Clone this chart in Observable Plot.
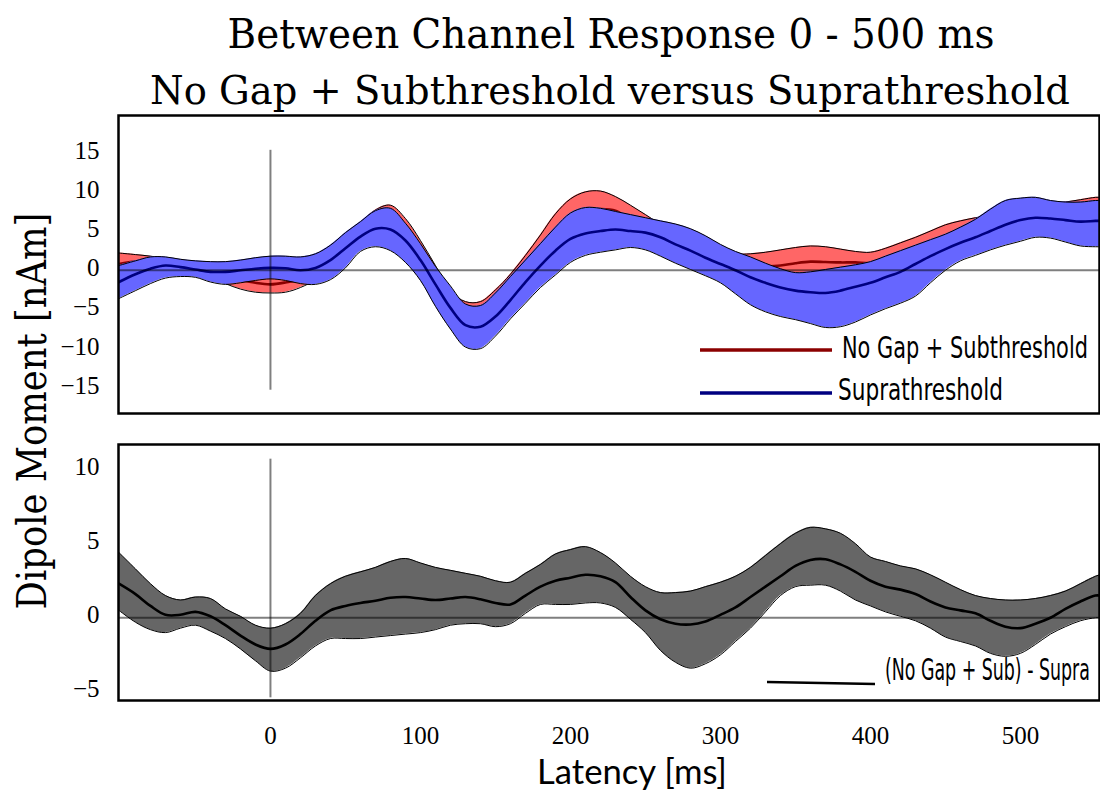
<!DOCTYPE html>
<html>
<head>
<meta charset="utf-8">
<script src="https://cdn.jsdelivr.net/npm/d3@7"></script>
<script src="https://cdn.jsdelivr.net/npm/@observablehq/plot@0.6"></script>
<style>
  html, body { margin: 0; padding: 0; background: #fff; }
  #wrap { position: relative; width: 1100px; height: 799px; overflow: hidden; }
  #top, #bottom { position: absolute; left: 0; }
  #top { top: 105px; }
  #bottom { top: 434px; }
  #overlay { position: absolute; left: 0; top: 0; pointer-events: none; }
</style>
</head>
<body>
<div id="wrap">
  <div id="top"></div>
  <div id="bottom"></div>
  <svg id="overlay" width="1100" height="799"></svg>
</div>
<script>
// ---- data ----
const latency = [-101,-90,-80,-70,-60,-50,-40,-30,-20,-10,0,10,20,30,40,50,60,70,80,90,100,110,120,130,140,150,160,170,180,190,200,210,220,230,240,250,260,270,280,290,300,310,320,330,340,350,360,370,380,390,400,410,420,430,440,450,460,470,480,490,500,510,520,530,540,550,553];

const subMean = [0.8,1.1,1.0,0.8,0.6,0.5,-0.1,-0.7,-1.2,-1.6,
  -1.8,-1.55,-1.1,0.1,1.8,3.6,5.3,6.45,6.55,5.2,
  2.6,-0.6,-3.5,-5.6,-5.95,-4.9,-2.9,0.0,2.7,5.0,
  6.7,7.6,7.8,7.6,6.4,5.3,4.1,2.9,2.05,1.35,
  1.0,0.7,0.5,0.5,0.6,0.9,1.1,1.05,1.0,1.0,
  0.9,1.2,1.7,2.4,2.9,3.4,4.0,4.5,4.8,5.2,
  5.7,6.3,6.6,7.0,7.3,7.8,7.8];
const subHi = [2.2,2.0,1.8,1.5,1.2,1.0,0.5,0.0,-0.4,-0.6,
  -0.7,-0.5,0.0,1.2,3.0,4.7,6.1,7.7,8.3,6.6,
  3.8,0.6,-2.6,-4.0,-4.0,-2.5,-0.5,1.9,4.5,7.2,
  9.1,10.0,10.1,9.4,8.3,7.1,5.9,5.0,4.1,3.3,
  2.7,2.1,2.1,2.3,2.6,2.9,3.1,3.0,2.7,2.4,
  2.3,2.8,3.5,4.2,5.0,5.8,6.3,6.7,7.0,7.4,
  7.8,8.1,8.4,8.7,9.0,9.3,9.3];
const subLo = [-0.6,-0.2,0.0,0.1,0.0,-0.2,-0.8,-1.7,-2.4,-2.8,
  -2.9,-2.8,-2.2,-1.2,0.4,2.1,3.6,4.6,4.6,3.4,
  1.1,-2.0,-5.0,-7.4,-7.9,-7.0,-5.2,-2.7,0.2,2.6,
  4.2,5.0,5.3,5.1,4.4,3.5,2.4,1.2,0.3,-0.4,
  -0.7,-0.8,-0.8,-0.7,-0.5,-0.4,-0.3,-0.4,-0.6,-0.5,
  -0.4,-0.2,0.3,1.0,1.6,2.2,2.9,3.4,3.8,4.1,
  4.4,4.9,5.1,5.5,5.8,6.2,6.2];

const supraMean = [-1.5,-0.5,0.2,0.6,0.4,0.1,-0.2,-0.2,0.0,0.2,
  0.3,0.25,0.0,0.3,1.3,2.8,4.3,5.3,5.2,3.8,
  1.3,-1.8,-4.8,-7.0,-7.2,-5.9,-3.8,-1.5,0.6,2.5,
  4.0,4.7,5.0,5.2,5.0,4.8,4.2,3.3,2.5,1.6,
  0.8,0.0,-0.9,-1.6,-2.2,-2.6,-2.8,-2.9,-2.6,-2.1,
  -1.6,-0.9,-0.2,0.8,1.8,2.7,3.5,4.2,5.0,5.8,
  6.4,6.7,6.6,6.4,6.2,6.3,6.3];
const supraHi = [0.6,1.2,1.7,1.7,1.4,1.2,1.1,1.1,1.3,1.6,
  1.8,1.8,1.7,2.1,3.2,4.8,6.2,7.6,7.9,6.0,
  3.4,0.5,-2.0,-4.3,-4.5,-2.9,-0.8,1.3,3.4,5.5,
  7.3,8.0,7.9,7.5,7.1,6.7,6.3,5.9,5.3,4.4,
  3.3,2.4,1.7,0.9,0.2,-0.3,-0.2,0.1,0.4,0.7,
  1.1,1.8,2.5,3.2,3.9,4.6,5.5,6.5,7.8,8.9,
  9.2,9.3,8.9,8.7,8.7,8.9,8.9];
const supraLo = [-3.6,-2.6,-1.7,-1.0,-0.8,-0.9,-1.5,-1.8,-1.6,-1.3,
  -1.1,-1.3,-1.7,-1.8,-1.2,0.3,2.4,3.0,2.5,1.0,
  -1.3,-4.6,-7.5,-9.8,-10.0,-8.4,-6.2,-4.2,-2.2,-0.6,
  1.0,1.9,2.3,2.6,2.9,2.6,1.8,0.9,0.1,-0.7,
  -1.6,-3.0,-4.4,-5.3,-5.9,-6.3,-6.8,-7.3,-7.2,-6.6,
  -5.7,-4.9,-4.2,-3.3,-1.6,0.0,1.2,1.9,2.6,3.2,
  3.7,4.2,4.1,3.6,3.1,3.0,3.0];

const diffMean = [2.3,1.6,0.8,0.2,0.2,0.4,0.1,-0.5,-1.2,-1.8,
  -2.1,-1.8,-1.1,-0.2,0.5,0.8,1.0,1.15,1.35,1.4,
  1.3,1.2,1.3,1.4,1.25,1.0,0.9,1.5,2.1,2.5,
  2.7,2.9,2.8,2.4,1.4,0.5,-0.1,-0.4,-0.45,-0.25,
  0.2,0.7,1.4,2.1,2.8,3.5,3.9,3.95,3.6,3.1,
  2.5,2.1,1.9,1.6,1.1,0.7,0.5,0.3,-0.2,-0.6,
  -0.7,-0.4,0.0,0.6,1.1,1.5,1.5];
const diffHi = [4.4,3.3,2.3,1.5,1.2,1.4,1.3,0.6,0.1,-0.5,
  -0.7,-0.4,0.3,1.5,2.3,2.8,3.1,3.4,3.8,4.0,
  3.7,3.4,3.2,3.0,2.8,2.5,2.4,3.0,3.6,4.3,
  4.6,4.8,4.4,3.7,2.8,2.1,1.7,1.7,1.8,2.1,
  2.4,2.8,3.4,4.2,5.0,5.7,6.1,6.0,5.7,5.0,
  4.1,3.8,3.5,3.3,2.9,2.4,1.9,1.5,1.3,1.2,
  1.2,1.3,1.5,1.8,2.3,2.8,2.9];
const diffLo = [0.5,-0.3,-0.8,-1.0,-0.7,-0.5,-0.9,-1.4,-2.1,-2.9,
  -3.6,-3.4,-2.7,-1.9,-1.4,-1.4,-1.4,-1.3,-1.2,-1.1,
  -1.0,-0.8,-0.5,-0.4,-0.4,-0.6,-0.4,0.3,0.9,0.9,
  0.9,1.0,1.0,0.7,-0.1,-1.0,-2.2,-3.0,-3.4,-3.1,
  -2.5,-1.6,-0.7,0.4,1.5,2.1,2.2,2.2,1.8,1.2,
  0.8,0.4,0.1,-0.2,-0.7,-1.3,-1.6,-1.9,-2.4,-2.6,
  -2.4,-1.8,-1.1,-0.6,-0.2,0.0,0.0];

const xTicks = [0, 100, 200, 300, 400, 500];
const yTicksTop = [-15, -10, -5, 0, 5, 10, 15];
const yTicksBottom = [-5, 0, 5, 10];
const onsetTop = [{t: 0, lo: -15.3, hi: 15.3}];
const onsetBottom = [{t: 0, lo: -5.4, hi: 10.7}];

const titleLines = ["Between Channel Response 0 - 500 ms", "No Gap + Subthreshold versus Suprathreshold"];
const legendTop = ["No Gap + Subthreshold", "Suprathreshold"];
const legendBottom = "(No Gap + Sub) - Supra";

// ---- build tables ----
const table = (lo, mid, hi) => latency.map((t, i) => ({t, lo: lo[i], mid: mid[i], hi: hi[i]}));
const sub = table(subLo, subMean, subHi);
const supra = table(supraLo, supraMean, supraHi);
const diff = table(diffLo, diffMean, diffHi);

const C = "catmull-rom";
const xDomain = [-101.3, 552.7];

function bandMarks(data, fill, lineColor) {
  return [
    Plot.areaY(data, {x: "t", y1: "lo", y2: "hi", fill, curve: C, clip: true}),
    Plot.line(data, {x: "t", y: "hi", stroke: "black", strokeWidth: 1, curve: C, clip: true}),
    Plot.line(data, {x: "t", y: "lo", stroke: "black", strokeWidth: 1, curve: C, clip: true}),
    Plot.line(data, {x: "t", y: "mid", stroke: lineColor, strokeWidth: 2.6, curve: C, clip: true})
  ];
}

const common = {
  width: 1100,
  marginLeft: 118,
  marginRight: 1,
  style: {fontFamily: "'Liberation Serif', serif", fontSize: "25px", color: "black", background: "transparent"}
};

const topPlot = Plot.plot({
  ...common,
  height: 318,
  marginTop: 10,
  marginBottom: 10,
  x: {domain: xDomain, axis: null},
  y: {domain: [-18.27, 19.74]},
  marks: [
    ...bandMarks(sub, "#ff6666", "#8b0000"),
    ...bandMarks(supra, "#6666ff", "#000080"),
    Plot.ruleY([0], {stroke: "black", strokeOpacity: 0.5, strokeWidth: 2}),
    Plot.ruleX(onsetTop, {x: "t", y1: "lo", y2: "hi", stroke: "black", strokeOpacity: 0.5, strokeWidth: 2}),
    Plot.axisY({ticks: yTicksTop, tickSize: 0, tickPadding: 19, label: null, fontSize: 25, dy: -2}),
    Plot.frame({stroke: "black", strokeWidth: 2.5})
  ]
});
document.getElementById("top").appendChild(topPlot);

const bottomPlot = Plot.plot({
  ...common,
  height: 326,
  marginTop: 10,
  marginBottom: 60,
  x: {domain: xDomain},
  y: {domain: [-5.58, 11.69]},
  marks: [
    ...bandMarks(diff, "#666666", "black"),
    Plot.ruleY([0], {stroke: "black", strokeOpacity: 0.5, strokeWidth: 2}),
    Plot.ruleX(onsetBottom, {x: "t", y1: "lo", y2: "hi", stroke: "black", strokeOpacity: 0.5, strokeWidth: 2}),
    Plot.axisY({ticks: yTicksBottom, tickSize: 0, tickPadding: 19, label: null, fontSize: 25, dy: -3}),
    Plot.axisX({ticks: xTicks, tickSize: 0, tickPadding: 26, label: null, fontSize: 25}),
    Plot.frame({stroke: "black", strokeWidth: 2.5})
  ]
});
document.getElementById("bottom").appendChild(bottomPlot);

// ---- overlay: title, axis titles, legends ----
const svg = d3.select("#overlay");
// Text fitted to a target width by a horizontal scale transform (keeps real text)
function addText(str, x, y, opts) {
  const el = svg.append("text").attr("x", 0).attr("y", 0).text(str)
    .attr("font-family", opts.family).attr("font-size", opts.size)
    .attr("text-anchor", opts.anchor || "start").attr("fill", "black");
  const natural = el.node().getComputedTextLength() || opts.len;
  const sx = opts.len ? opts.len / natural : 1;
  const rot = opts.rotate ? " rotate(-90)" : "";
  el.attr("transform", `translate(${x},${y})${rot} scale(${sx},1)`);
  return el;
}
const serif = "'DejaVu Serif', serif";
const narrow = "'Liberation Sans Narrow', 'DejaVu Sans Condensed', 'Liberation Sans', sans-serif";
addText(titleLines[0], 611, 48, {family: serif, size: 41, anchor: "middle", len: 767});
addText(titleLines[1], 610, 104, {family: serif, size: 39, anchor: "middle", len: 920});
addText("Dipole Moment [nAm]", 46, 411, {family: serif, size: 41, anchor: "middle", len: 397, rotate: true});
addText("Latency [ms]", 632, 784, {family: "Lato, 'Open Sans', sans-serif", size: 34, anchor: "middle", len: 190});

// legends
svg.append("line").attr("x1", 700).attr("x2", 832).attr("y1", 350).attr("y2", 350)
  .attr("stroke", "#8b0000").attr("stroke-width", 3.5);
addText(legendTop[0], 842, 358, {family: narrow, size: 31, len: 246});
svg.append("line").attr("x1", 700).attr("x2", 832).attr("y1", 393).attr("y2", 393)
  .attr("stroke", "#000080").attr("stroke-width", 3.5);
addText(legendTop[1], 838, 400, {family: narrow, size: 31, len: 165});
svg.append("line").attr("x1", 767).attr("x2", 875).attr("y1", 682).attr("y2", 684)
  .attr("stroke", "black").attr("stroke-width", 2.5);
addText(legendBottom, 885, 680, {family: narrow, size: 30, len: 205});
</script>
</body>
</html>
